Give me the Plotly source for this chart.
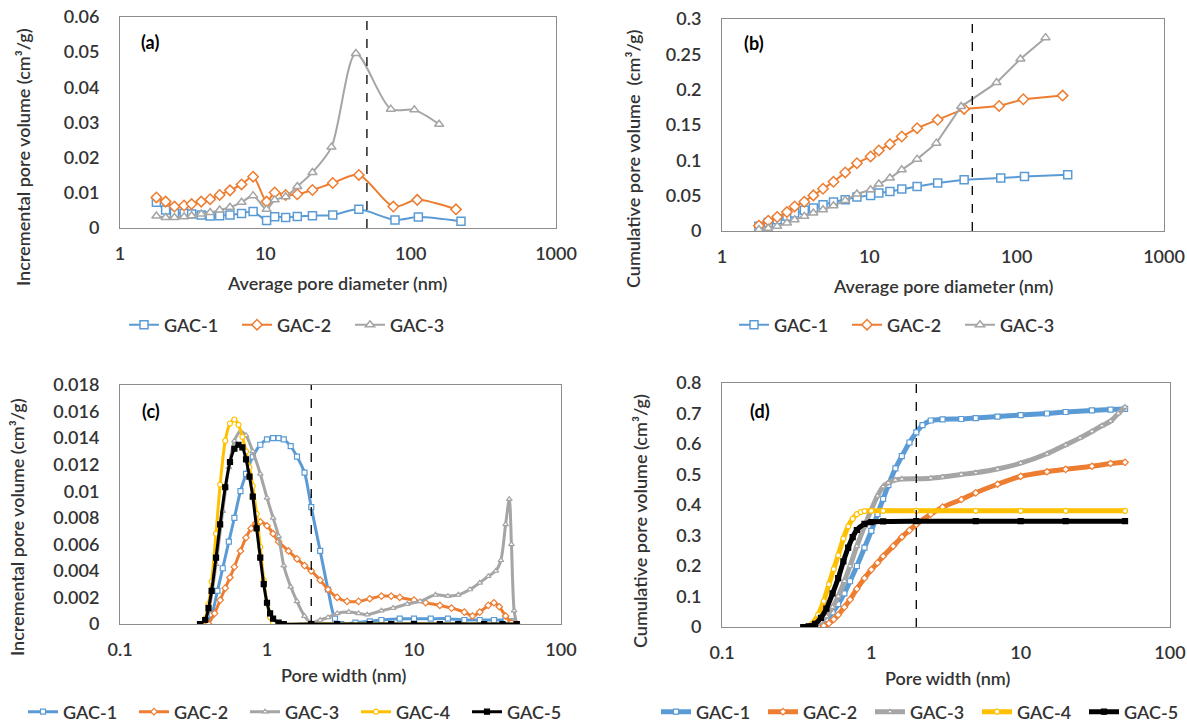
import plotly.graph_objects as go

# ---------------- data: BJH (panels a, b) ----------------
bjh_gac1_x = [1.78, 2.06, 2.37, 2.76, 3.11, 3.62, 4.17, 4.85, 5.71, 6.86, 8.24, 10.2, 11.6, 13.8, 16.6, 21.1, 29.1, 44.0, 78, 113, 222]
bjh_gac2_x = [1.78, 2.06, 2.37, 2.76, 3.11, 3.62, 4.17, 4.85, 5.71, 6.86, 8.24, 10.2, 11.6, 13.8, 16.6, 21.1, 29.1, 44.0, 76, 111, 205]
bjh_gac3_x = [1.78, 2.06, 2.37, 2.76, 3.11, 3.62, 4.17, 4.85, 5.71, 6.86, 8.24, 10.2, 11.6, 13.8, 16.6, 21.1, 28.5, 42.0, 73, 106, 157]

a_gac1 = [0.0073, 0.0051, 0.0042, 0.0042, 0.0040, 0.0037, 0.0034, 0.0035, 0.0037, 0.0041, 0.0047, 0.0021, 0.0032, 0.0030, 0.0033, 0.0035, 0.0037, 0.0053, 0.0023, 0.0031, 0.0019]
a_gac2 = [0.0087, 0.0075, 0.0061, 0.0064, 0.0068, 0.0075, 0.0082, 0.0094, 0.0107, 0.0124, 0.0146, 0.0075, 0.0101, 0.0094, 0.0096, 0.0108, 0.0128, 0.0151, 0.0061, 0.0080, 0.0053]
a_gac3 = [0.0034, 0.0030, 0.0030, 0.0032, 0.0035, 0.0040, 0.0044, 0.0051, 0.0059, 0.0073, 0.0092, 0.0053, 0.0080, 0.0089, 0.0118, 0.0158, 0.0230, 0.0496, 0.0338, 0.0336, 0.0295]

b_gac1 = [0.0066, 0.0122, 0.0160, 0.0207, 0.0254, 0.0292, 0.0325, 0.0372, 0.0410, 0.0443, 0.0480, 0.0504, 0.0537, 0.0560, 0.0593, 0.0631, 0.0678, 0.0725, 0.0749, 0.0772, 0.0796]
b_gac2 = [0.0075, 0.0146, 0.0198, 0.0268, 0.0348, 0.0414, 0.0504, 0.0598, 0.0697, 0.0829, 0.0960, 0.1055, 0.1140, 0.1229, 0.1337, 0.1455, 0.1573, 0.1728, 0.1770, 0.1865, 0.1916]
b_gac3 = [0.0020, 0.0038, 0.0066, 0.0113, 0.0160, 0.0207, 0.0254, 0.0301, 0.0358, 0.0433, 0.0523, 0.0584, 0.0664, 0.0749, 0.0866, 0.1017, 0.1243, 0.1761, 0.2100, 0.2434, 0.2736]

# ---------------- data: DFT incremental (panel c) ----------------
c_gac1_x = [0.38, 0.42, 0.46, 0.50, 0.55, 0.60, 0.66, 0.72, 0.80, 0.90, 1.0, 1.1, 1.2, 1.3, 1.45, 1.6, 1.8, 2.0, 2.3, 2.6, 2.9, 3.2, 4, 5, 6, 8, 10, 13, 17, 22, 28, 35, 42, 46, 50]
c_gac1 = [0, 0.0007, 0.0025, 0.0042, 0.0062, 0.0080, 0.0100, 0.0113, 0.0126, 0.0135, 0.0139, 0.0140, 0.0140, 0.0139, 0.0134, 0.0126, 0.0114, 0.0088, 0.0055, 0.0026, 0.0004, 0.0000, 0.0001, 0.0002, 0.0003, 0.0004, 0.0004, 0.0004, 0.0004, 0.0003, 0.0003, 0.0003, 0.0003, 0.0002, 0]
c_gac2_x = [0.40, 0.44, 0.48, 0.52, 0.56, 0.60, 0.66, 0.72, 0.78, 0.84, 0.90, 1.0, 1.1, 1.2, 1.4, 1.6, 1.8, 2.0, 2.3, 2.6, 3.0, 3.5, 4.2, 5, 6, 7, 8, 10, 12, 15, 18, 22, 25, 28, 32, 35, 38, 42, 46, 50]
c_gac2 = [0, 0.0008, 0.0018, 0.0027, 0.0035, 0.0043, 0.0055, 0.0065, 0.0072, 0.0076, 0.0077, 0.0074, 0.0068, 0.0062, 0.0055, 0.0049, 0.0044, 0.0040, 0.0033, 0.0026, 0.0020, 0.0017, 0.0017, 0.0019, 0.0021, 0.0021, 0.0020, 0.0018, 0.0016, 0.0014, 0.0012, 0.0009, 0.0006, 0.0009, 0.0014, 0.0016, 0.0013, 0.0006, 0.0001, 0]
c_gac3_x = [0.36, 0.40, 0.45, 0.50, 0.55, 0.60, 0.66, 0.72, 0.80, 0.90, 1.0, 1.1, 1.2, 1.3, 1.45, 1.6, 1.8, 2.0, 2.3, 2.6, 3.0, 3.6, 4.2, 4.8, 6, 7.2, 9, 11, 14, 17, 20, 24, 28, 32, 36, 39, 42, 44.5, 46, 48, 50]
c_gac3 = [0, 0.0010, 0.0045, 0.0085, 0.0118, 0.0138, 0.0145, 0.0142, 0.0130, 0.0113, 0.0095, 0.0080, 0.0066, 0.0044, 0.0028, 0.0017, 0.0006, 0.0001, 0.0003, 0.0005, 0.0008, 0.0009, 0.0008, 0.0007, 0.0010, 0.0012, 0.0015, 0.0017, 0.0022, 0.0021, 0.0022, 0.0026, 0.0031, 0.0036, 0.0040, 0.0048, 0.0075, 0.0094, 0.0060, 0.0010, 0]
c_gac4_x = [0.36, 0.38, 0.40, 0.42, 0.45, 0.48, 0.52, 0.56, 0.60, 0.64, 0.68, 0.72, 0.76, 0.80, 0.85, 0.90, 0.95, 1.0, 1.05, 1.1, 1.2, 2, 5, 10, 20, 50]
c_gac4 = [0, 0.0004, 0.0015, 0.0032, 0.0068, 0.0105, 0.0138, 0.0151, 0.0154, 0.0150, 0.0141, 0.0130, 0.0118, 0.0104, 0.0083, 0.0058, 0.0033, 0.0016, 0.0005, 0.0001, 0, 0, 0, 0, 0, 0]
c_gac5_x = [0.35, 0.38, 0.40, 0.42, 0.45, 0.48, 0.52, 0.56, 0.60, 0.64, 0.68, 0.72, 0.76, 0.80, 0.85, 0.90, 0.95, 1.0, 1.05, 1.1, 1.2, 1.3, 2, 3, 5, 7, 10, 15, 20, 30, 40, 50]
c_gac5 = [0, 0.0003, 0.0012, 0.0025, 0.0050, 0.0075, 0.0103, 0.0122, 0.0132, 0.0135, 0.0133, 0.0124, 0.0111, 0.0096, 0.0072, 0.0050, 0.0030, 0.0016, 0.0008, 0.0004, 0.0001, 0, 0, 0, 0, 0, 0, 0, 0, 0, 0, 0]

# ---------------- data: DFT cumulative (panel d) ----------------
d_gac1_x = [0.38, 0.42, 0.46, 0.5, 0.55, 0.6, 0.66, 0.72, 0.8, 0.9, 1.0, 1.1, 1.2, 1.3, 1.45, 1.6, 1.8, 2.0, 2.2, 2.5, 3, 4, 5, 7, 10, 15, 20, 30, 40, 50]
d_gac1 = [0, 0.003, 0.012, 0.025, 0.048, 0.075, 0.11, 0.15, 0.2, 0.26, 0.315, 0.37, 0.42, 0.465, 0.52, 0.56, 0.605, 0.638, 0.662, 0.677, 0.681, 0.682, 0.685, 0.69, 0.695, 0.70, 0.705, 0.71, 0.713, 0.715]
d_gac2_x = [0.44, 0.48, 0.52, 0.56, 0.6, 0.66, 0.72, 0.8, 0.9, 1.0, 1.1, 1.2, 1.4, 1.6, 1.8, 2.0, 2.5, 3, 4, 5, 7, 10, 15, 20, 30, 40, 50]
d_gac2 = [0, 0.004, 0.012, 0.025, 0.04, 0.065, 0.09, 0.125, 0.16, 0.188, 0.21, 0.232, 0.265, 0.295, 0.317, 0.336, 0.37, 0.393, 0.418, 0.44, 0.468, 0.494, 0.509, 0.517, 0.527, 0.536, 0.54]
d_gac3_x = [0.38, 0.42, 0.46, 0.5, 0.55, 0.6, 0.66, 0.72, 0.8, 0.9, 1.0, 1.1, 1.2, 1.3, 1.45, 1.6, 2.0, 2.5, 3, 4, 5, 7, 10, 15, 20, 25, 30, 35, 40, 45, 50]
d_gac3 = [0, 0.005, 0.018, 0.035, 0.065, 0.1, 0.15, 0.2, 0.265, 0.33, 0.385, 0.43, 0.46, 0.473, 0.482, 0.485, 0.486, 0.488, 0.492, 0.5, 0.506, 0.518, 0.537, 0.568, 0.597, 0.62, 0.641, 0.66, 0.675, 0.7, 0.721]
d_gac4_x = [0.36, 0.40, 0.44, 0.48, 0.52, 0.56, 0.6, 0.65, 0.7, 0.75, 0.8, 0.85, 0.9, 1.0, 1.2, 2, 5, 10, 20, 50]
d_gac4 = [0, 0.01, 0.04, 0.085, 0.14, 0.19, 0.235, 0.29, 0.33, 0.355, 0.37, 0.377, 0.38, 0.381, 0.381, 0.381, 0.381, 0.381, 0.381, 0.381]
d_gac5_x = [0.35, 0.38, 0.42, 0.46, 0.5, 0.55, 0.6, 0.65, 0.7, 0.75, 0.8, 0.9, 1.0, 1.2, 2, 5, 10, 20, 50]
d_gac5 = [0, 0.002, 0.01, 0.03, 0.06, 0.11, 0.16, 0.215, 0.26, 0.295, 0.318, 0.338, 0.344, 0.346, 0.347, 0.347, 0.347, 0.347, 0.347]

names = ["GAC-1", "GAC-2", "GAC-3", "GAC-4", "GAC-5"]
colors = ["#5B9BD5", "#ED7D31", "#A5A5A5", "#FFC000", "#000000"]
symbols = ["square", "diamond", "triangle-up", "circle", "square"]

FONT = "Lato, Carlito, Calibri, sans-serif"
TXT = "#333333"
W, H = 1187, 725

fig = go.Figure()

def add(x, y, i, xa, ya, leg, size, lw, shape, mlw=1.5):
    fig.add_trace(go.Scatter(
        x=x, y=y, name=names[i], mode="lines+markers",
        line=dict(color=colors[i], width=lw, shape=shape, smoothing=0.8),
        marker=dict(symbol=symbols[i], size=size, color=colors[i] if i == 4 else "white",
                    line=dict(color=colors[i], width=mlw)),
        xaxis=xa, yaxis=ya, legend=leg, hoverinfo="skip"))

# panel a
add(bjh_gac1_x, a_gac1, 0, "x", "y", "legend", 8, 2, "spline")
add(bjh_gac2_x, a_gac2, 1, "x", "y", "legend", 8, 2, "spline")
add(bjh_gac3_x, a_gac3, 2, "x", "y", "legend", 8, 2, "spline")
# panel b
add(bjh_gac1_x, b_gac1, 0, "x2", "y2", "legend2", 8, 2, "linear")
add(bjh_gac2_x, b_gac2, 1, "x2", "y2", "legend2", 8, 2, "linear")
add(bjh_gac3_x, b_gac3, 2, "x2", "y2", "legend2", 8, 2, "linear")
# panel c
for i, (xx, yy) in enumerate([(c_gac1_x, c_gac1), (c_gac2_x, c_gac2), (c_gac3_x, c_gac3),
                              (c_gac4_x, c_gac4), (c_gac5_x, c_gac5)]):
    add(xx, yy, i, "x3", "y3", "legend3", 5, 3, "spline", 1.2)
# panel d
for i, (xx, yy) in enumerate([(d_gac1_x, d_gac1), (d_gac2_x, d_gac2), (d_gac3_x, d_gac3),
                              (d_gac4_x, d_gac4), (d_gac5_x, d_gac5)]):
    add(xx, yy, i, "x4", "y4", "legend4", 5, 5, "spline", 1.2)

# dashed reference lines
for xa, ya, xv, ytop in [("x", "y", 50, 0.06), ("x2", "y2", 50, 0.3), ("x3", "y3", 2, 0.018), ("x4", "y4", 2, 0.8)]:
    fig.add_trace(go.Scatter(x=[xv, xv], y=[0, ytop], mode="lines", xaxis=xa, yaxis=ya,
                             line=dict(color="black", width=1.3, dash="dash"),
                             showlegend=False, hoverinfo="skip"))

def px_x(a, b):
    return [a / W, b / W]

def px_y(top, bottom):
    return [1 - bottom / H, 1 - top / H]

axis_common = dict(showline=True, mirror=True, linecolor="#8c8c8c", linewidth=1,
                   showgrid=False, zeroline=False, ticks="outside", tickcolor="rgba(0,0,0,0)",
                   tickfont=dict(family=FONT, size=18, color=TXT, weight=600))

doms = {
    1: (px_x(120, 556), px_y(17, 228)),
    2: (px_x(722, 1164), px_y(19, 231)),
    3: (px_x(120, 561), px_y(385, 624)),
    4: (px_x(722, 1170), px_y(383, 627)),
}
xr = {1: [0, 3], 2: [0, 3], 3: [-1, 2], 4: [-1, 2]}
xt = {1: [1, 10, 100, 1000], 2: [1, 10, 100, 1000], 3: [0.1, 1, 10, 100], 4: [0.1, 1, 10, 100]}
yr = {1: ([0, 0.06], 0.01), 2: ([0, 0.3], 0.05), 3: ([0, 0.018], 0.002), 4: ([0, 0.8], 0.1)}

layout = {}
for k in range(1, 5):
    sx = "" if k == 1 else str(k)
    layout["xaxis" + sx] = dict(axis_common, domain=doms[k][0], anchor="y" + sx, type="log",
                                range=xr[k], tickvals=xt[k], ticktext=[str(v) for v in xt[k]], ticklen=9)
    layout["yaxis" + sx] = dict(axis_common, domain=doms[k][1], anchor="x" + sx,
                                range=yr[k][0], dtick=yr[k][1], tick0=0, ticklen=16)
fig.update_layout(**layout)

legfont = dict(family=FONT, size=18, color=TXT, weight=600)
leg = dict(orientation="h", xanchor="left", yanchor="middle", font=legfont,
           bgcolor="rgba(0,0,0,0)", entrywidthmode="pixels", itemwidth=30)
fig.update_layout(
    legend=dict(leg, x=124 / W, y=1 - 325 / H, entrywidth=68),
    legend2=dict(leg, x=734 / W, y=1 - 325 / H, entrywidth=68),
    legend3=dict(leg, x=23 / W, y=1 - 712 / H, entrywidth=66),
    legend4=dict(leg, x=656 / W, y=1 - 712 / H, entrywidth=62),
)

ann = []
def text(x, y, s, angle=0, bold=False, size=18):
    ann.append(dict(x=x / W, y=1 - y / H, xref="paper", yref="paper", text=("<b>%s</b>" % s) if bold else s,
                    showarrow=False, textangle=angle, xanchor="center", yanchor="middle",
                    font=dict(family=FONT, size=size, color="black" if bold else TXT,
                              weight=700 if bold else 600)))

text(150, 42, "(a)", bold=True)
text(754, 43, "(b)", bold=True)
text(151, 411, "(c)", bold=True)
text(760, 411, "(d)", bold=True)
text(23, 157, "Incremental pore volume (cm³/g)", angle=-90)
text(633, 159, "Cumulative pore volume\u00a0 (cm³/g)", angle=-90)
text(17, 527, "Incremental pore volume (cm³/g)", angle=-90)
text(640, 521, "Cumulative pore volume (cm³/g)", angle=-90)
text(337, 283, "Average pore diameter (nm)")
text(943, 286, "Average pore diameter (nm)")
text(343, 675, "Pore width (nm)")
text(947, 678, "Pore width (nm)")

fig.update_layout(annotations=ann, width=W, height=H,
                  margin=dict(l=0, r=0, t=0, b=0, autoexpand=False),
                  paper_bgcolor="white", plot_bgcolor="white", font=dict(family=FONT, color=TXT))

fig.write_html("out.html")
